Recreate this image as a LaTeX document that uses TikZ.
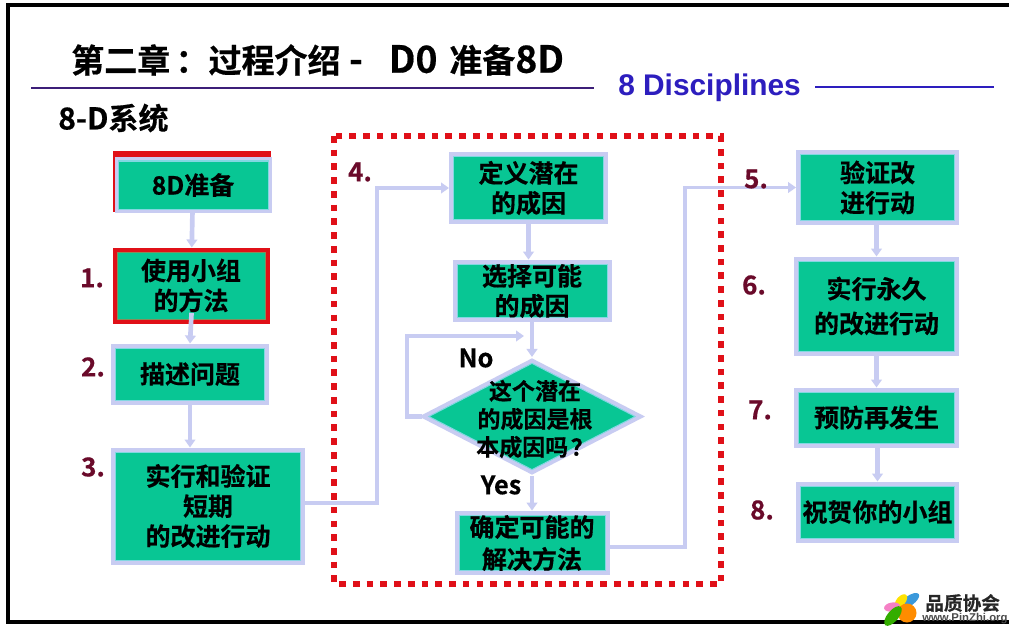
\documentclass[tikz,border=0pt]{standalone}
\usepackage{fontspec}
\setmainfont{Noto Sans CJK SC Bold}[FakeBold=0.5]
\newfontfamily\latinbold{Liberation Sans Bold}
\usetikzlibrary{arrows.meta,shapes.geometric}
\definecolor{boxgreen}{RGB}{8,198,148}
\definecolor{boxedge}{RGB}{200,204,242}
\definecolor{boxrim}{RGB}{130,215,225}
\definecolor{rimolive}{RGB}{135,140,90}
\definecolor{markred}{RGB}{224,16,24}
\definecolor{stepnum}{RGB}{106,10,42}
\definecolor{titleline}{RGB}{60,30,120}
\definecolor{bluetext}{RGB}{45,30,190}
\tikzset{
  flowbox/.style n args={3}{fill=boxgreen,draw=#2,line width=0.75pt,inner sep=0pt,align=center,
    font=\fontsize{18.75pt}{22.5pt}\selectfont,text=black,
    preaction={draw=#1,line width=#3*0.75pt},outer sep=#3*0.375pt},
  stepbox/.style={flowbox={boxedge}{boxrim}{9}},
  thinbox/.style={flowbox={boxedge}{boxrim}{7}},
  redbox/.style={flowbox={markred}{rimolive}{9}},
  boxsize/.style 2 args={minimum width=#1*0.75pt,minimum height=#2*0.75pt},
  flowline/.style={draw=boxedge,line width=3.5pt,-{Triangle[width=8pt,length=6pt]}},
  sideline/.style={draw=boxedge,line width=2.8pt,-{Triangle[width=8pt,length=6pt]}},
  stepnumber/.style={text=stepnum,font=\fontsize{19.5pt}{19.5pt}\selectfont,inner sep=0pt},
  lowtext/.style={text=black,font=\fontsize{19pt}{19pt}\selectfont,inner sep=0pt}
}
\begin{document}
\begin{tikzpicture}[x=0.75pt,y=0.75pt,yscale=-1,xscale=1]
\useasboundingbox (0,0) rectangle (1009,631);
\fill[white] (0,0) rectangle (1009,631);

%Frame
\draw[black,line width=3pt] (1009,5.5) -- (7.5,5.5) -- (7.5,622) -- (1009,622);

%Title
\node[anchor=west,inner sep=0pt,font=\fontsize{24.75pt}{24.75pt}\selectfont] (chaptertitle) at (71,60) {第二章\kern4pt：过程介绍\fontsize{28pt}{28pt}\selectfont\ -\ \ \kern6.75pt D0\ \kern2.5pt\fontsize{24.75pt}{24.75pt}\selectfont 准备\fontsize{28pt}{28pt}\selectfont 8D};
\node[anchor=west,inner sep=0pt,text=bluetext,font=\latinbold\fontsize{22.4pt}{22.4pt}\selectfont] (disciplines) at (618,88) {8 Disciplines};
\node[anchor=west,inner sep=0pt,font=\fontsize{22.5pt}{22.5pt}\selectfont] (systemtitle) at (58,118) {8-D系统};
\draw[titleline,line width=1.5pt] (31,88) -- (594,88);
\draw[bluetext,line width=1.5pt] (815,87) -- (994,87);

%Dotted frame
\draw[markred,line width=5pt,dash pattern=on 5pt off 5.3pt] (334,136) rectangle (721,584);

%Red mark on the first box
\fill[markred] (113,151) rectangle (271,157);
\fill[markred] (113,151) rectangle (114.5,212);

%Boxes
\node[thinbox,boxsize={150}{48}] (prepare) at (193,185) {8D准备};
\node[redbox,boxsize={148}{67}] (team) at (191,285.5) {使用小组\\的方法};
\node[stepbox,boxsize={149}{52}] (describe) at (190,374) {描述问题};
\node[stepbox,boxsize={185}{108}] (contain) at (208,506) {实行和验证\\短期\\的改进行动};
\node[stepbox,boxsize={150}{63.5}] (define) at (528.5,188) {定义潜在\\的成因};
\node[stepbox,boxsize={150}{52}] (choose) at (532,291) {选择可能\\的成因};
\node[stepbox,boxsize={146}{54},font=\fontsize{18.75pt}{24pt}\selectfont] (solution) at (532,543) {确定可能的\\解决方法};
\node[stepbox,boxsize={154}{65}] (verify) at (877.5,187.5) {验证改\\进行动};
\node[stepbox,boxsize={156}{90},font=\fontsize{18.75pt}{26pt}\selectfont] (permanent) at (876.5,306) {实行永久\\的改进行动};
\node[stepbox,boxsize={156}{51}] (prevent) at (876.5,417.5) {预防再发生};
\node[stepbox,boxsize={154}{52}] (congratulate) at (877.5,512) {祝贺你的小组};

%Decision
\node[diamond,aspect=1.9,fill=boxgreen,draw=boxrim,line width=0.75pt,inner sep=0pt,
  preaction={draw=boxedge,line width=6.75pt},outer sep=3.4pt,boxsize={210}{110}] (rootcause) at (532,416.5) {};
\node[inner sep=0pt,align=center,font=\fontsize{17.25pt}{21pt}\selectfont] (rootcausetext) at (535,419) {这个潜在\\的成因是根\\本成因吗\kern2pt？};

%White gaps on the top edge
\draw[white,line width=1.5pt,dash pattern=on 3pt off 3pt] (137,445) -- (270,445);

%Bends
\coordinate (bendleft) at (377,503);
\coordinate (bendright) at (685,547);
\coordinate (bendloop) at (407,336);

%Connectors
\draw[flowline] (prepare) -- (team);
\draw[flowline,shorten <=-8pt] (team.south) -- (describe.north);
\draw[flowline] (describe) -- (contain.north -| describe);
\draw[sideline] (contain.east |- bendleft) -- (bendleft) |- (define.west);
\draw[flowline] (define.south) -- (define.south |- choose.north);
\draw[flowline] (choose.south -| rootcause) -- (rootcause.north);
\draw[sideline,line width=3.4pt] (rootcause.west) -| (bendloop) -- (524,336);
\draw[flowline] (rootcause.south) -- (solution.north);
\draw[sideline] (solution.east |- bendright) -- (bendright) |- (verify.west);
\draw[flowline] (verify.south -| permanent) -- (permanent.north);
\draw[flowline] (permanent) -- (prevent);
\draw[flowline] (prevent.south -| congratulate) -- (congratulate.north);

%Labels
\node[lowtext] (nolabel) at (476,358) {No};
\node[lowtext] (yeslabel) at (501,485) {Yes};
\node[stepnumber] (stepone) at (92,278) {1.};
\node[stepnumber] (steptwo) at (93,367) {2.};
\node[stepnumber] (stepthree) at (93,467) {3.};
\node[stepnumber] (stepfour) at (360,172) {4.};
\node[stepnumber] (stepfive) at (756,179) {5.};
\node[stepnumber] (stepsix) at (754,285) {6.};
\node[stepnumber] (stepseven) at (760,410) {7.};
\node[stepnumber] (stepeight) at (762,510) {8.};

%Logo
\fill[white] (883,592) rectangle (1009,620);
\fill[cyan!70!blue!80] (909,601) ellipse [x radius=12,y radius=5,rotate=-35];
\fill[yellow!85!orange] (901,601) ellipse [x radius=8,y radius=4.5,rotate=-50];
\fill[magenta!50!white] (892,607) ellipse [x radius=8,y radius=4.5,rotate=-10];
\fill[orange!90!yellow] (907,613) circle (9.5);
\fill[green!60!black!80!yellow] (893,616) ellipse [x radius=12,y radius=5.5,rotate=-50];
\node[anchor=west,inner sep=0pt,text=black!85,font=\fontsize{14pt}{14pt}\selectfont] (logoname) at (925,603) {品质协会};
\node[anchor=west,inner sep=0pt,text=black!70,font=\latinbold\fontsize{8.5pt}{8.5pt}\selectfont] (logourl) at (922,619) {www.PinZhi.org};
\end{tikzpicture}
\end{document}
